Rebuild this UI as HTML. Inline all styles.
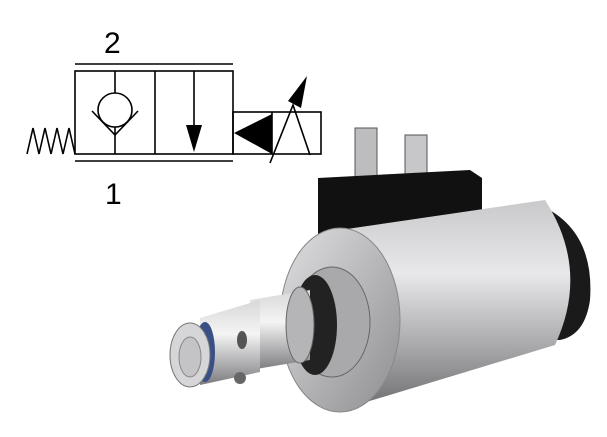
<!DOCTYPE html>
<html><head><style>html,body{margin:0;padding:0;background:#fff;width:607px;height:437px;overflow:hidden}</style></head><body>
<svg width="607" height="437" viewBox="0 0 607 437" xmlns="http://www.w3.org/2000/svg">
<defs>
<linearGradient id="body" x1="0" y1="0" x2="0" y2="1">
<stop offset="0" stop-color="#c9c9cb"/><stop offset="0.35" stop-color="#e8e8ea"/><stop offset="0.7" stop-color="#a8a8ab"/><stop offset="1" stop-color="#6d6d70"/></linearGradient>
<linearGradient id="face" x1="0" y1="0" x2="1" y2="1">
<stop offset="0" stop-color="#e0e0e2"/><stop offset="1" stop-color="#8e8e91"/></linearGradient>
<linearGradient id="met" x1="0" y1="0" x2="0" y2="1">
<stop offset="0" stop-color="#d8d8da"/><stop offset="0.4" stop-color="#f4f4f4"/><stop offset="1" stop-color="#7c7c80"/></linearGradient>
</defs>
<g fill="none" stroke="#000" stroke-width="1.6">
<line x1="75" y1="64" x2="233" y2="64"/>
<line x1="75" y1="161" x2="233" y2="161"/>
<rect x="75" y="71" width="158" height="83"/>
<line x1="155" y1="71" x2="155" y2="154"/>
<rect x="233" y="112" width="88" height="42"/>
<line x1="272" y1="112" x2="272" y2="154"/>
<polyline points="27,154 33,128 39,154 45,128 51,154 57,128 63,154 69,128 75,154"/>
<line x1="115" y1="71" x2="115" y2="93"/><line x1="115" y1="127" x2="115" y2="154"/>
<circle cx="115" cy="110" r="17"/>
<polyline points="92,111 115,135 138,111"/>
<line x1="194" y1="71" x2="194" y2="130"/>
<polyline points="270,163 293,105 310,155"/>
</g>
<polygon points="186,125 202,125 194,152" fill="#000"/>
<polygon points="234,133 272,114 272,154" fill="#000"/>
<polygon points="307,76 288,101 301,108" fill="#000"/>
<text x="104" y="53" font-family="Liberation Sans, sans-serif" font-size="30">2</text>
<text x="105" y="204" font-family="Liberation Sans, sans-serif" font-size="30">1</text>
<!-- valve -->
<rect x="355" y="128" width="22" height="60" fill="#bdbdbf" stroke="#555"/>
<rect x="405" y="135" width="22" height="55" fill="#c7c7c9" stroke="#555"/>
<path d="M318 178 L470 170 L482 178 L482 250 L400 262 L318 240 Z" fill="#111"/>
<path d="M540 205 Q595 230 590 300 Q585 335 560 340 L540 340 Z" fill="#1a1a1a"/>
<path d="M340 230 L545 200 Q590 270 555 345 L340 410 Z" fill="url(#body)"/>
<ellipse cx="340" cy="320" rx="60" ry="92" fill="url(#face)" stroke="#888"/>
<ellipse cx="332" cy="322" rx="38" ry="55" fill="#a9a9ac" stroke="#666"/>
<ellipse cx="315" cy="325" rx="22" ry="50" fill="#222"/>
<path d="M250 300 L310 290 L310 360 L250 370 Z" fill="url(#met)"/>
<ellipse cx="300" cy="325" rx="14" ry="38" fill="#b5b5b8" stroke="#666"/>
<path d="M200 318 L260 300 L260 372 L200 385 Z" fill="url(#met)"/>
<ellipse cx="205" cy="352" rx="10" ry="30" fill="#3a4f86"/>
<ellipse cx="190" cy="355" rx="20" ry="32" fill="#d6d6d8" stroke="#777"/>
<ellipse cx="190" cy="357" rx="11" ry="20" fill="#c4c4c6" stroke="#888"/>
<ellipse cx="242" cy="340" rx="5" ry="9" fill="#555"/>
<ellipse cx="240" cy="378" rx="6" ry="6" fill="#666"/>
</svg>
</body></html>
